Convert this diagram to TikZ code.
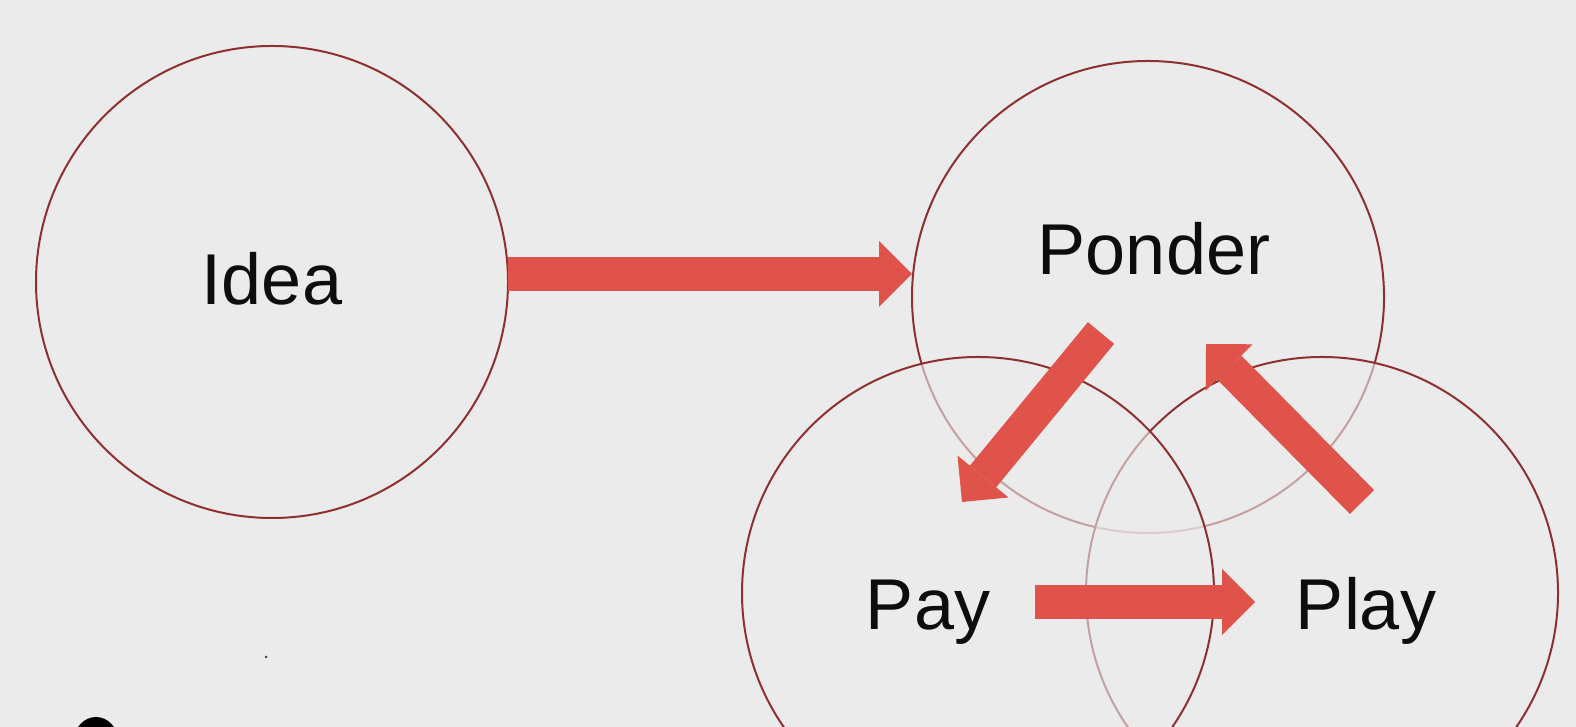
\documentclass[tikz,border=0pt]{standalone}
\usepackage{fontspec}
\setmainfont{Liberation Sans}
\usetikzlibrary{arrows.meta}
\definecolor{fondo}{HTML}{EBEBEB}
\definecolor{rojo}{HTML}{E0534B}
\definecolor{borde}{HTML}{8E3030}
\begin{document}
\begin{tikzpicture}[x=1bp,y=1bp,
    ronda/.style={circle,draw=borde,line width=2bp,fill=fondo,fill opacity=.6,
      minimum size=472bp,inner sep=0pt,outer sep=0pt},
    rotulo/.style={anchor=base,text=black!95,font=\fontsize{72bp}{80bp}\selectfont},
    flecha/.style={draw=rojo,line width=34bp,
      -{Triangle[length=33bp,width=66bp,line width=0pt]}}]
  \useasboundingbox (0,0) rectangle (1576,727);
  \clip (0,0) rectangle (1576,727);
  \fill[fondo] (0,0) rectangle (1576,727);
  % circulos (el orden importa: pay queda encima)
  \node[ronda] (idea) at (272,445) {};
  \node[ronda] (ponder) at (1148,430) {};
  \node[ronda] (play) at (1322,134) {};
  \node[ronda] (pay) at (978,134) {};
  % textos
  \node[rotulo] (ideatxt) at (272,422) {Idea};
  \node[rotulo] (pondertxt) at (1154,452) {Ponder};
  \node[rotulo] (paytxt) at (928,97) {Pay};
  \node[rotulo] (playtxt) at (1366,97) {Play};
  % extremos de las flechas
  \coordinate (po1) at ([shift={(-47,-36)}]ponder.center);
  \coordinate (pa1) at ([shift={(-16,91)}]pay.center);
  \coordinate (pa2) at ([shift={(57,-9)}]pay.center);
  \coordinate (pl1) at ([shift={(-67,-9)}]play.center);
  \coordinate (pl2) at ([shift={(40,91)}]play.center);
  \coordinate (po2) at ([shift={(58,-47)}]ponder.center);
  \draw[flecha] (idea.2.7) -- (idea.2.7 -| ponder.west);
  \draw[flecha] (po1) -- (pa1);
  \draw[flecha] (pa2) -- (pl1);
  \draw[flecha] (pl2) -- (po2);
  % restos en la esquina
  \fill[black] (96,-14) ellipse (22 and 24);
  \fill[black!70] (266,70) circle (1.5);
\end{tikzpicture}
\end{document}
